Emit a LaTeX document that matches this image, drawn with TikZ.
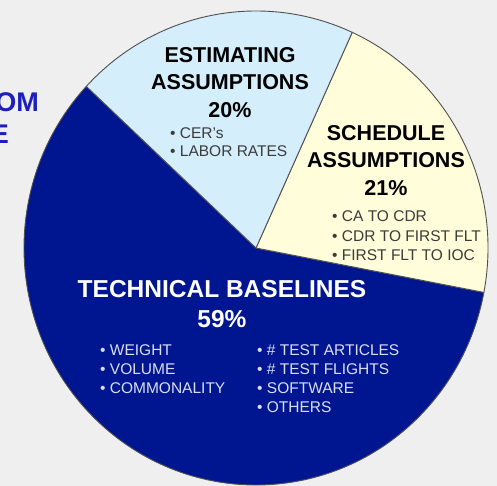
\documentclass[tikz,border=0pt]{standalone}
\usepackage{fontspec}
\setmainfont{Liberation Sans}
\definecolor{techblue}{RGB}{0,22,145}
\definecolor{estblue}{RGB}{212,238,252}
\definecolor{schedyellow}{RGB}{255,253,218}
\definecolor{bggray}{RGB}{239,239,239}
\definecolor{sideblue}{RGB}{30,30,190}
\definecolor{edgegray}{RGB}{80,80,80}
\definecolor{itemgray}{RGB}{60,60,60}
\definecolor{itemwhite}{RGB}{218,222,242}

\begin{document}
\begin{tikzpicture}[x=1pt,y=1pt,
    slice/.style={draw=edgegray,line width=0.9pt,line join=round},
    headline/.style={font=\fontsize{21.5}{27.5}\selectfont\bfseries,align=center,anchor=north,inner sep=0pt},
    bigheadline/.style={font=\fontsize{24.5}{30}\selectfont\bfseries,align=center,anchor=north,inner sep=0pt},
    bullets/.style={font=\fontsize{15.5}{19}\selectfont,align=left,anchor=north west,inner sep=0pt},
    sidetext/.style={font=\fontsize{27}{30}\selectfont\bfseries,text=sideblue,anchor=east,inner sep=0pt}]
    % Frame
    \fill[bggray] (0,0) rectangle (497,486);
    \useasboundingbox (0,0) rectangle (497,486);
    \clip (0,0) rectangle (497,486);
    \coordinate (c) at (256,238);

    % Slices
    \filldraw[slice,fill=techblue] (c) -- ++(137:232pt and 237pt)
        arc[start angle=137,end angle=349.2,x radius=232pt,y radius=237pt] -- cycle;
    \filldraw[slice,fill=schedyellow] (c) -- ++(-10.8:232pt and 237pt)
        arc[start angle=-10.8,end angle=65.5,x radius=232pt,y radius=237pt] -- cycle;
    \filldraw[slice,fill=estblue] (c) -- ++(65.5:232pt and 237pt)
        arc[start angle=65.5,end angle=137,x radius=232pt,y radius=237pt] -- cycle;

    % Cut-off side title
    \node[sidetext] (sideom) at (39,384) {OM};
    \node[sidetext] (sidee) at (9,352) {E};

    % Estimating assumptions
    \node[headline] (esttitle) at (230,439) {ESTIMATING\\ASSUMPTIONS\\20\%};
    \node[bullets,text=itemgray,font=\fontsize{15.5}{18}\selectfont] (estitems) at (170,359)
        {\textbullet{} CER’s\\\textbullet{} LABOR RATES};

    % Schedule assumptions
    \node[headline] (schedtitle) at (386,361) {SCHEDULE\\ASSUMPTIONS\\21\%};
    \node[bullets,text=itemgray,font=\fontsize{15.5}{19.5}\selectfont] (scheditems) at (332,275.5)
        {\textbullet{} CA TO CDR\\\textbullet{} CDR TO FIRST FLT\\\textbullet{} FIRST FLT TO IOC};

    % Technical baselines
    \node[bigheadline,text=white] (techtitle) at (222,206) {TECHNICAL BASELINES\\59\%};
    \node[bullets,text=itemwhite] (techleft) at (100,141.5)
        {\textbullet{} WEIGHT\\\textbullet{} VOLUME\\\textbullet{} COMMONALITY};
    \node[bullets,text=itemwhite] (techright) at (257,141.5)
        {\textbullet{} \# TEST ARTICLES\\\textbullet{} \# TEST FLIGHTS\\\textbullet{} SOFTWARE\\\textbullet{} OTHERS};
\end{tikzpicture}
\end{document}
